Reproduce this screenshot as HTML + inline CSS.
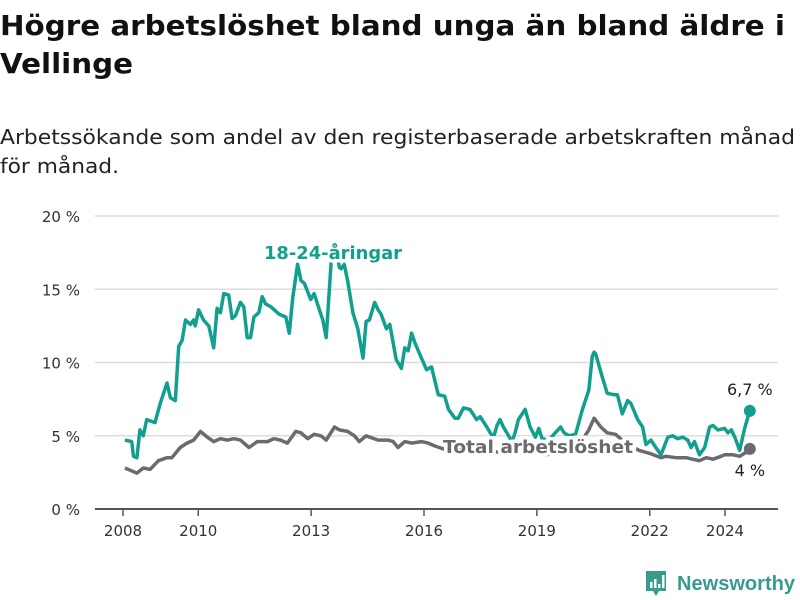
<!DOCTYPE html>
<html><head><meta charset="utf-8"><style>
body{margin:0;background:#fff;width:800px;height:600px;overflow:hidden;font-family:"Liberation Sans","DejaVu Sans",sans-serif}
svg{position:absolute;left:0;top:0}
</style></head><body>
<svg id="c" width="800" height="600">
<text x="0" y="35" font-size="28" font-weight="bold" fill="#111" font-family="DejaVu Sans, sans-serif" textLength="785" lengthAdjust="spacingAndGlyphs">Högre arbetslöshet bland unga än bland äldre i</text>
<text x="0" y="73" font-size="28" font-weight="bold" fill="#111" font-family="DejaVu Sans, sans-serif" textLength="133" lengthAdjust="spacingAndGlyphs">Vellinge</text>
<text x="0" y="144" font-size="20" fill="#222" font-family="DejaVu Sans, sans-serif" textLength="795" lengthAdjust="spacingAndGlyphs">Arbetssökande som andel av den registerbaserade arbetskraften månad</text>
<text x="0" y="173" font-size="20" fill="#222" font-family="DejaVu Sans, sans-serif" textLength="119" lengthAdjust="spacingAndGlyphs">för månad.</text>
<g id="grid"></g><g id="axes"></g><g id="series"></g><g id="labels"></g>
<g>
<path d="M646 571 h20 v20 h-7 l-3 5 l-3 -5 h-7 z" fill="#3a9a8e"/>
<rect x="650" y="582" width="2.5" height="6" fill="#fff"/><rect x="654" y="579" width="2.5" height="9" fill="#fff"/><rect x="658" y="584" width="2.5" height="4" fill="#fff"/><rect x="662" y="575" width="2.5" height="13" fill="#fff"/>
<text x="677" y="590" font-size="20" font-weight="bold" fill="#3a9a8e" font-family="Liberation Sans, sans-serif" textLength="118" lengthAdjust="spacingAndGlyphs">Newsworthy</text>
</g>
</svg>
<script>
const youthYears=[2008.05,2008.23,2008.28,2008.37,2008.45,2008.54,2008.63,2008.85,2008.99,2009.17,2009.26,2009.39,2009.48,2009.57,2009.66,2009.79,2009.88,2009.92,2010.01,2010.14,2010.28,2010.41,2010.50,2010.59,2010.68,2010.81,2010.90,2010.99,2011.12,2011.21,2011.30,2011.39,2011.48,2011.61,2011.70,2011.79,2011.93,2012.15,2012.33,2012.42,2012.51,2012.64,2012.73,2012.82,2012.99,2013.08,2013.22,2013.31,2013.40,2013.53,2013.57,2013.66,2013.75,2013.80,2013.88,2013.97,2014.11,2014.24,2014.38,2014.46,2014.55,2014.69,2014.78,2014.86,2015.00,2015.09,2015.26,2015.40,2015.49,2015.58,2015.67,2015.75,2015.93,2016.07,2016.20,2016.38,2016.55,2016.65,2016.82,2016.91,2017.05,2017.22,2017.40,2017.49,2017.67,2017.76,2017.85,2017.94,2018.02,2018.11,2018.20,2018.34,2018.42,2018.51,2018.69,2018.82,2018.96,2019.05,2019.14,2019.32,2019.49,2019.63,2019.72,2019.85,2020.03,2020.21,2020.38,2020.47,2020.52,2020.56,2020.74,2020.87,2021.05,2021.14,2021.27,2021.41,2021.50,2021.68,2021.81,2021.90,2022.03,2022.16,2022.30,2022.48,2022.61,2022.74,2022.88,2023.01,2023.10,2023.19,2023.32,2023.46,2023.59,2023.68,2023.81,2023.99,2024.08,2024.17,2024.26,2024.39,2024.52,2024.66];
const youthValues=[4.7,4.6,3.6,3.5,5.4,5.0,6.1,5.9,7.2,8.6,7.6,7.4,11.1,11.5,12.9,12.6,12.9,12.5,13.6,12.9,12.5,11.0,13.7,13.4,14.7,14.6,13.0,13.2,14.1,13.8,11.7,11.7,13.1,13.4,14.5,14.0,13.8,13.3,13.1,12.0,14.4,16.7,15.6,15.4,14.3,14.7,13.6,12.9,11.7,16.8,17.6,18.0,16.5,16.4,16.7,15.6,13.4,12.3,10.3,12.8,12.9,14.1,13.6,13.3,12.3,12.6,10.2,9.6,11.0,10.8,12.0,11.4,10.3,9.5,9.7,7.8,7.7,6.8,6.2,6.2,6.9,6.8,6.1,6.3,5.6,5.2,4.9,5.7,6.1,5.6,5.2,4.6,5.2,6.1,6.8,5.6,4.9,5.5,4.8,4.7,5.2,5.6,5.2,5.0,5.1,6.8,8.1,10.4,10.7,10.6,9.0,7.9,7.8,7.8,6.5,7.4,7.2,6.1,5.6,4.4,4.7,4.2,3.7,4.9,5.0,4.8,4.9,4.7,4.2,4.6,3.7,4.2,5.6,5.7,5.4,5.5,5.2,5.4,4.9,4.0,5.5,6.7];
const totalYears=[2008.05,2008.37,2008.54,2008.72,2008.94,2009.17,2009.30,2009.52,2009.70,2009.88,2010.06,2010.24,2010.41,2010.59,2010.77,2010.95,2011.12,2011.35,2011.57,2011.84,2012.01,2012.19,2012.37,2012.59,2012.73,2012.91,2013.08,2013.26,2013.40,2013.62,2013.75,2013.97,2014.15,2014.28,2014.46,2014.78,2015.04,2015.18,2015.31,2015.49,2015.67,2015.93,2016.11,2016.29,2016.51,2016.8,2017.2,2017.6,2018.0,2018.4,2018.8,2019.2,2019.6,2020.0,2020.38,2020.52,2020.70,2020.87,2021.09,2021.27,2021.50,2021.72,2021.99,2022.30,2022.43,2022.70,2022.97,2023.14,2023.32,2023.50,2023.68,2023.90,2023.99,2024.21,2024.39,2024.52,2024.66];
const totalValues=[2.8,2.45,2.8,2.7,3.3,3.5,3.5,4.2,4.5,4.7,5.3,4.9,4.6,4.8,4.7,4.8,4.7,4.2,4.6,4.6,4.8,4.7,4.5,5.3,5.2,4.8,5.1,5.0,4.7,5.6,5.4,5.3,5.0,4.6,5.0,4.7,4.7,4.6,4.2,4.6,4.5,4.6,4.5,4.3,4.1,4.0,4.1,3.9,3.9,3.8,3.9,3.7,3.8,3.9,5.4,6.2,5.6,5.2,5.1,4.7,4.3,4.0,3.8,3.5,3.6,3.5,3.5,3.4,3.3,3.5,3.4,3.6,3.7,3.7,3.6,3.8,4.1];
const yTicks=[0,5,10,15,20];
const yTickLabels=["0 %","5 %","10 %","15 %","20 %"];
const xTicks=[2008,2010,2013,2016,2019,2022,2024];
const endLabels=["6,7 %","4 %"];

const NS="http://www.w3.org/2000/svg";
const X=y=>123+(y-2008)*37.625;
const Y=v=>509-v*14.65;
function mk(tag,parent,attrs){const e=document.createElementNS(NS,tag);for(const k in attrs)e.setAttribute(k,attrs[k]);document.getElementById(parent).appendChild(e);return e;}
yTicks.forEach((t,i)=>{
  const g=mk('line','grid',{x1:95,x2:778,y1:Y(t),y2:Y(t),stroke:t===0?'#555':'#ddd','stroke-width':t===0?2:1.5});
  
  
  const l=mk('text','axes',{x:80,y:Y(t)+6,'text-anchor':'end','font-size':15,fill:'#333','font-family':'DejaVu Sans, sans-serif'});
  l.textContent=yTickLabels[i];
  
  
});
xTicks.forEach(t=>{
  const tk=mk('line','axes',{x1:X(t),x2:X(t),y1:509,y2:516,stroke:'#555','stroke-width':1.5});
  
  
  const l=mk('text','axes',{x:X(t),y:536,'text-anchor':'middle','font-size':15,fill:'#333','font-family':'DejaVu Sans, sans-serif'});
  l.textContent=t;
  
  
});
function line(xs,vs,color,name){
  const d=xs.map((x,i)=>(i?'L':'M')+X(x).toFixed(1)+' '+Y(vs[i]).toFixed(1)).join(' ');
  const p=mk('path','series',{d:d,fill:'none',stroke:color,'stroke-width':3.5,'stroke-linejoin':'round'});
  
  
  const n=xs.length-1;
  const c=mk('circle','series',{cx:X(xs[n]),cy:Y(vs[n]),r:6,fill:color});
  
  
}
line(totalYears,totalValues,'#6b6a70','total-line');
line(youthYears,youthValues,'#12a08e','youth-line');
function lbl(txt,x,y,color,bold,name,anchor,len){
  const a={x:x,y:y,fill:color,'font-size':bold?18:16,'font-weight':bold?'bold':'normal','font-family':'DejaVu Sans, sans-serif',stroke:'#fff','stroke-width':bold?7:4,'paint-order':'stroke','text-anchor':anchor||'start'};
  if(len){a.textLength=len;a.lengthAdjust='spacingAndGlyphs';}
  const t=mk('text','labels',a);
  t.textContent=txt;
  
  
}
lbl('18-24-åringar',264,259,'#12a08e',true,'youth-label',null,138);
lbl('Total arbetslöshet',443,453,'#6b6a70',true,'total-label',null,190);
lbl(endLabels[0],X(youthYears[youthYears.length-1]),395,'#222',false,'youth-end-value','middle');
lbl(endLabels[1],X(totalYears[totalYears.length-1]),476,'#222',false,'total-end-value','middle');
</script>
</body></html>
